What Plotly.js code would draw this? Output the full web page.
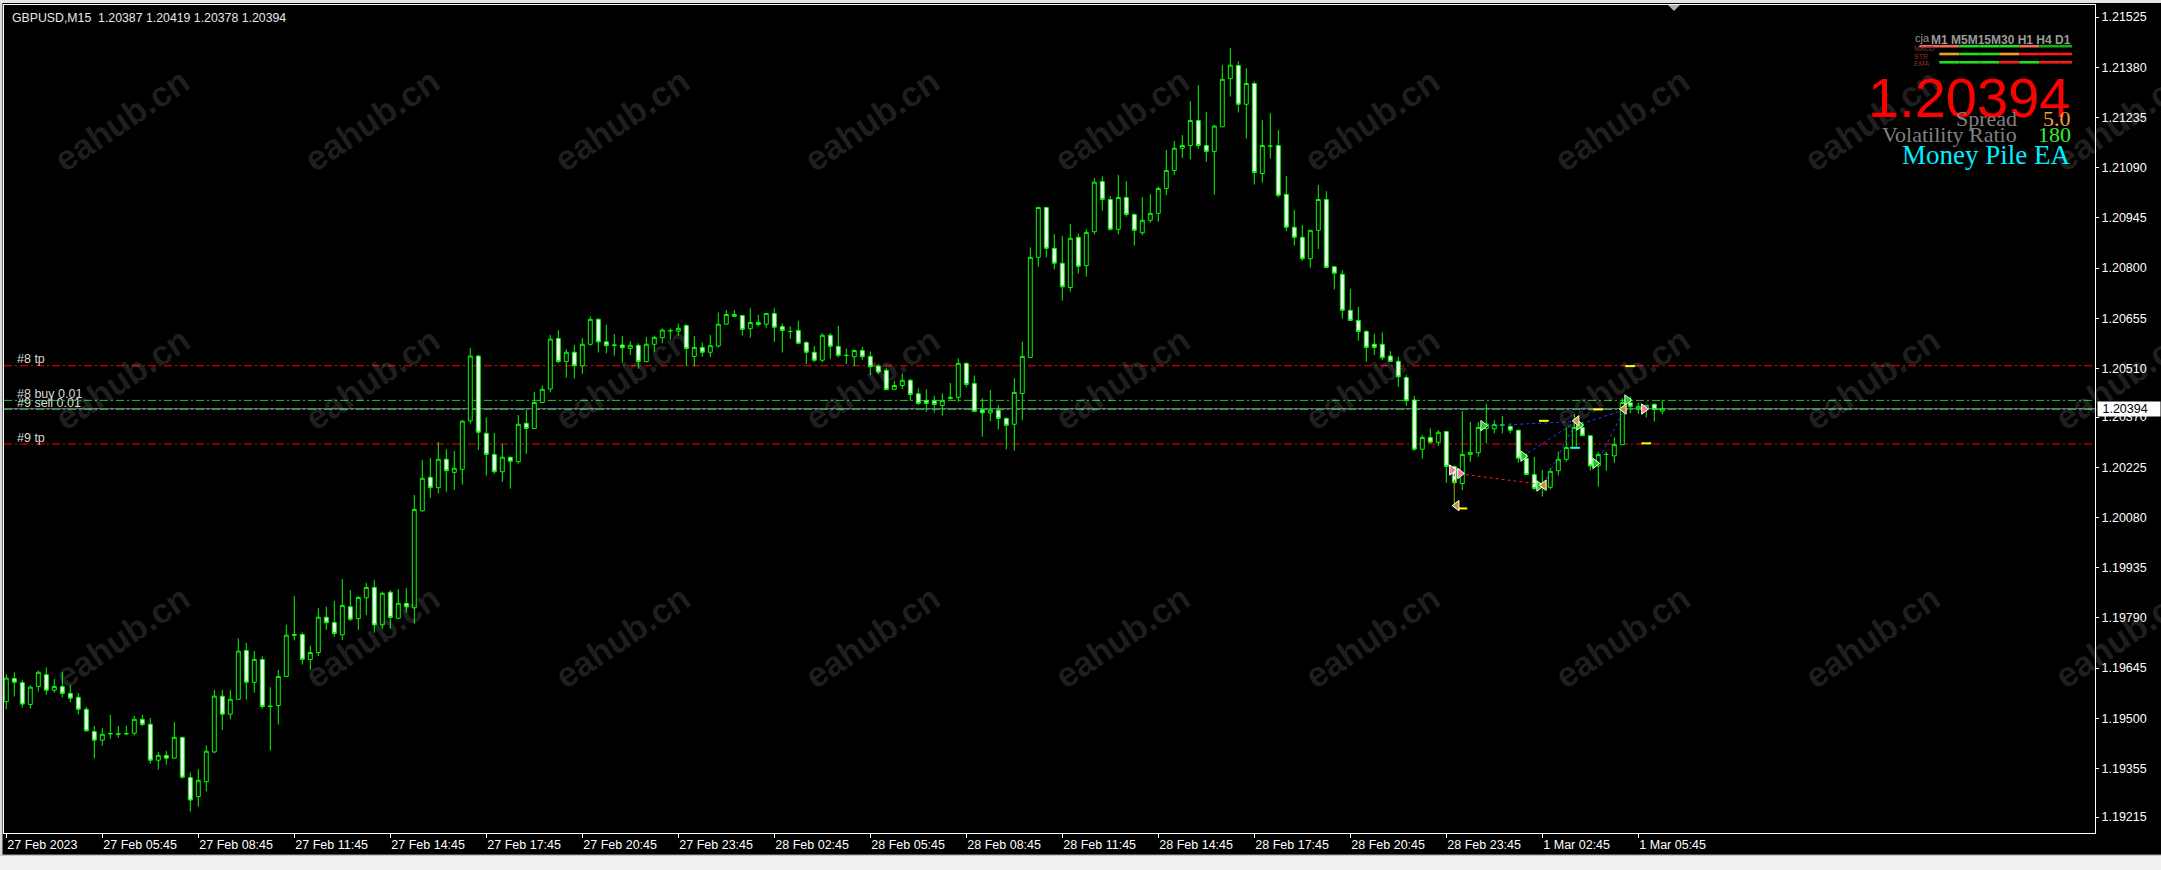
<!DOCTYPE html>
<html><head><meta charset="utf-8">
<script src="https://cdn.plot.ly/plotly-3.0.1.min.js"></script>
<style>html,body{margin:0;padding:0;background:#000;overflow:hidden}#chart{width:2161px;height:870px}</style>
</head><body><div id="chart"></div>
<script>
// ---------------- DATA (GBPUSD M15, bar 0 = 27 Feb 2023 02:45) ----------------
const symbolTitle = 'GBPUSD,M15\u00a0 1.20387 1.20419 1.20378 1.20394';
const openP = [
1.19548,1.19615,1.19603,1.19540,1.19592,1.19626,1.19581,1.19592,1.19572,1.19561,
1.19526,1.19462,1.19437,1.19455,1.19455,1.19455,1.19457,1.19497,1.19483,1.19379,
1.19393,1.19385,1.19445,1.19329,1.19274,1.19317,1.19403,1.19564,1.19512,1.19555,
1.19696,1.19604,1.19670,1.19534,1.19537,1.19621,1.19742,1.19742,1.19670,1.19690,
1.19792,1.19777,1.19741,1.19822,1.19788,1.19848,1.19878,1.19770,1.19864,1.19789,
1.19832,1.19819,1.20099,1.20196,1.20166,1.20248,1.20210,1.20219,1.20359,1.20546,
1.20323,1.20262,1.20212,1.20254,1.20241,1.20352,1.20337,1.20412,1.20451,1.20597,
1.20530,1.20557,1.20518,1.20580,1.20652,1.20587,1.20578,1.20578,1.20568,1.20577,
1.20530,1.20580,1.20599,1.20620,1.20618,1.20634,1.20545,1.20571,1.20557,1.20575,
1.20638,1.20666,1.20663,1.20625,1.20643,1.20638,1.20669,1.20631,1.20617,1.20620,
1.20585,1.20557,1.20534,1.20606,1.20574,1.20548,1.20544,1.20562,1.20545,1.20517,
1.20505,1.20450,1.20461,1.20476,1.20437,1.20418,1.20417,1.20403,1.20423,1.20427,
1.20525,1.20467,1.20390,1.20382,1.20389,1.20366,1.20349,1.20438,1.20542,1.20831,
1.20975,1.20857,1.20814,1.20744,1.20889,1.20807,1.20905,1.21050,1.20998,1.20912,
1.21004,1.20955,1.20902,1.20938,1.20958,1.21030,1.21082,1.21146,1.21154,1.21226,
1.21154,1.21137,1.21208,1.21347,1.21385,1.21273,1.21333,1.21073,1.21152,1.21154,
1.21013,1.20918,1.20889,1.20827,1.20909,1.20998,1.20804,1.20782,1.20678,1.20649,
1.20617,1.20580,1.20580,1.20546,1.20531,1.20484,1.20419,1.20277,1.20311,1.20297,
1.20328,1.20227,1.20178,1.20262,1.20267,1.20337,1.20336,1.20347,1.20343,1.20332,
1.20251,1.20204,1.20179,1.20167,1.20215,1.20248,1.20281,1.20340,1.20316,1.20229,
1.20262,1.20258,1.20290,1.20411,1.20394,1.20392,1.20407,1.20387];
const highP = [
1.19627,1.19633,1.19611,1.19595,1.19638,1.19647,1.19614,1.19634,1.19596,1.19573,
1.19533,1.19478,1.19472,1.19510,1.19478,1.19479,1.19507,1.19510,1.19501,1.19403,
1.19406,1.19489,1.19447,1.19344,1.19353,1.19422,1.19582,1.19582,1.19582,1.19731,
1.19718,1.19694,1.19679,1.19590,1.19640,1.19770,1.19853,1.19748,1.19710,1.19818,
1.19822,1.19839,1.19902,1.19870,1.19853,1.19891,1.19899,1.19866,1.19870,1.19873,
1.19876,1.20145,1.20246,1.20252,1.20298,1.20277,1.20272,1.20361,1.20569,1.20549,
1.20369,1.20324,1.20292,1.20254,1.20376,1.20392,1.20442,1.20461,1.20607,1.20621,
1.20566,1.20578,1.20598,1.20660,1.20655,1.20636,1.20609,1.20604,1.20589,1.20583,
1.20601,1.20605,1.20626,1.20626,1.20640,1.20638,1.20604,1.20585,1.20607,1.20672,
1.20679,1.20679,1.20665,1.20684,1.20665,1.20669,1.20684,1.20640,1.20632,1.20647,
1.20589,1.20575,1.20612,1.20612,1.20633,1.20568,1.20565,1.20572,1.20559,1.20523,
1.20513,1.20474,1.20496,1.20480,1.20453,1.20450,1.20431,1.20438,1.20468,1.20539,
1.20527,1.20490,1.20424,1.20448,1.20404,1.20369,1.20482,1.20588,1.20860,1.20977,
1.20977,1.20898,1.20893,1.20927,1.20900,1.20912,1.21060,1.21065,1.21008,1.21069,
1.21051,1.20958,1.21005,1.21014,1.21035,1.21141,1.21167,1.21184,1.21282,1.21328,
1.21250,1.21213,1.21386,1.21435,1.21397,1.21377,1.21339,1.21227,1.21247,1.21199,
1.21066,1.20968,1.20924,1.20909,1.21040,1.21022,1.20804,1.20794,1.20740,1.20688,
1.20621,1.20610,1.20614,1.20560,1.20544,1.20491,1.20431,1.20318,1.20337,1.20332,
1.20330,1.20230,1.20387,1.20356,1.20355,1.20408,1.20361,1.20373,1.20352,1.20332,
1.20265,1.20255,1.20217,1.20222,1.20270,1.20340,1.20378,1.20357,1.20316,1.20268,
1.20269,1.20311,1.20424,1.20429,1.20411,1.20404,1.20407,1.20419];
const lowP = [
1.19526,1.19563,1.19531,1.19528,1.19577,1.19568,1.19574,1.19561,1.19547,1.19511,
1.19462,1.19384,1.19421,1.19441,1.19444,1.19452,1.19451,1.19478,1.19369,1.19352,
1.19366,1.19384,1.19326,1.19231,1.19245,1.19289,1.19399,1.19466,1.19497,1.19555,
1.19554,1.19574,1.19528,1.19407,1.19482,1.19621,1.19725,1.19655,1.19640,1.19680,
1.19755,1.19736,1.19726,1.19781,1.19755,1.19798,1.19747,1.19759,1.19759,1.19786,
1.19805,1.19773,1.20097,1.20137,1.20149,1.20154,1.20160,1.20175,1.20351,1.20275,
1.20201,1.20206,1.20183,1.20163,1.20235,1.20264,1.20337,1.20412,1.20441,1.20525,
1.20484,1.20481,1.20494,1.20576,1.20556,1.20554,1.20547,1.20527,1.20549,1.20509,
1.20528,1.20557,1.20583,1.20594,1.20605,1.20516,1.20516,1.20544,1.20544,1.20571,
1.20638,1.20660,1.20605,1.20599,1.20631,1.20628,1.20587,1.20556,1.20596,1.20582,
1.20523,1.20528,1.20528,1.20538,1.20542,1.20523,1.20517,1.20535,1.20491,1.20494,
1.20448,1.20450,1.20450,1.20417,1.20405,1.20385,1.20383,1.20374,1.20421,1.20414,
1.20456,1.20385,1.20313,1.20358,1.20334,1.20277,1.20273,1.20361,1.20542,1.20804,
1.20831,1.20796,1.20706,1.20732,1.20784,1.20775,1.20897,1.20966,1.20908,1.20897,
1.20948,1.20865,1.20895,1.20931,1.20934,1.21011,1.21069,1.21118,1.21114,1.21145,
1.21107,1.21012,1.21208,1.21295,1.21249,1.21174,1.21041,1.21047,1.21116,1.21004,
1.20907,1.20865,1.20821,1.20801,1.20855,1.20802,1.20739,1.20654,1.20648,1.20590,
1.20530,1.20549,1.20534,1.20530,1.20457,1.20402,1.20273,1.20250,1.20294,1.20286,
1.20180,1.20110,1.20159,1.20241,1.20255,1.20294,1.20323,1.20323,1.20323,1.20238,
1.20202,1.20159,1.20140,1.20161,1.20201,1.20241,1.20280,1.20315,1.20215,1.20169,
1.20215,1.20238,1.20290,1.20381,1.20379,1.20369,1.20357,1.20378];
const closeP = [
1.19616,1.19604,1.19541,1.19590,1.19633,1.19581,1.19592,1.19572,1.19558,1.19526,
1.19464,1.19437,1.19454,1.19456,1.19454,1.19456,1.19497,1.19482,1.19379,1.19393,
1.19385,1.19445,1.19330,1.19264,1.19321,1.19405,1.19564,1.19512,1.19555,1.19694,
1.19604,1.19670,1.19534,1.19535,1.19621,1.19740,1.19740,1.19670,1.19690,1.19792,
1.19776,1.19745,1.19826,1.19786,1.19849,1.19878,1.19770,1.19861,1.19791,1.19832,
1.19822,1.20103,1.20193,1.20166,1.20248,1.20215,1.20222,1.20358,1.20546,1.20326,
1.20262,1.20212,1.20254,1.20242,1.20349,1.20337,1.20412,1.20450,1.20595,1.20530,
1.20557,1.20518,1.20580,1.20652,1.20587,1.20576,1.20577,1.20570,1.20577,1.20530,
1.20580,1.20600,1.20621,1.20619,1.20626,1.20568,1.20571,1.20557,1.20576,1.20638,
1.20666,1.20661,1.20623,1.20643,1.20637,1.20669,1.20629,1.20620,1.20617,1.20583,
1.20557,1.20534,1.20606,1.20574,1.20548,1.20548,1.20562,1.20544,1.20515,1.20500,
1.20449,1.20461,1.20476,1.20435,1.20409,1.20409,1.20406,1.20418,1.20427,1.20525,
1.20464,1.20386,1.20382,1.20390,1.20366,1.20346,1.20441,1.20545,1.20831,1.20975,
1.20857,1.20814,1.20746,1.20886,1.20805,1.20903,1.21048,1.20998,1.20912,1.21004,
1.20955,1.20909,1.20938,1.20958,1.21030,1.21082,1.21146,1.21154,1.21226,1.21154,
1.21137,1.21210,1.21345,1.21386,1.21273,1.21333,1.21076,1.21154,1.21152,1.21010,
1.20918,1.20889,1.20827,1.20909,1.20998,1.20802,1.20785,1.20678,1.20649,1.20617,
1.20571,1.20571,1.20541,1.20530,1.20486,1.20417,1.20277,1.20311,1.20297,1.20326,
1.20227,1.20180,1.20262,1.20268,1.20340,1.20350,1.20348,1.20347,1.20332,1.20251,
1.20204,1.20164,1.20169,1.20213,1.20248,1.20282,1.20340,1.20316,1.20229,1.20262,
1.20262,1.20291,1.20412,1.20400,1.20401,1.20404,1.20392,1.20394];

const timeTickBars = [0,12,24,36,48,60,72,84,96,108,120,132,144,156,168,180,192,204];
const timeTickLabels = ['27 Feb 2023','27 Feb 05:45','27 Feb 08:45','27 Feb 11:45','27 Feb 14:45','27 Feb 17:45',
  '27 Feb 20:45','27 Feb 23:45','28 Feb 02:45','28 Feb 05:45','28 Feb 08:45','28 Feb 11:45','28 Feb 14:45',
  '28 Feb 17:45','28 Feb 20:45','28 Feb 23:45','1 Mar 02:45','1 Mar 05:45'];
const priceTicks = [1.21525,1.21380,1.21235,1.21090,1.20945,1.20800,1.20655,1.20510,1.20370,1.20225,
  1.20080,1.19935,1.19790,1.19645,1.19500,1.19355,1.19215];

const bidPrice = 1.20394;
const levelNames  = ['#8 tp','#8 buy 0.01','#9 sell 0.01','#9 tp'];
const levelPrices = [1.20518, 1.20418, 1.20392, 1.20292];
const levelKinds  = ['tp','order','order','tp'];

// trade history objects (bar index, price)
const buyArrowBar   = [184.6, 189.6, 191.6, 196.6, 198.6, 202.6];
const buyArrowPrice = [1.20345, 1.20257, 1.20171, 1.20347, 1.20236, 1.20419];
const sellArrowBar   = [180.7, 181.7, 204.7];
const sellArrowPrice = [1.20217, 1.20207, 1.20393];
const closeArrowBar   = [181.3, 192.2, 196.3, 202.2];
const closeArrowPrice = [1.20114, 1.20173, 1.20359, 1.20393];
const buyLineBar0 = [185.5, 189.6, 192.1, 196.9, 198.8];
const buyLinePrice0 = [1.20345, 1.20257, 1.20174, 1.20350, 1.20236];
const buyLineBar1 = [196.1, 195.9, 195.9, 202.1, 202.1];
const buyLinePrice1 = [1.20357, 1.20352, 1.20342, 1.20390, 1.20385];
const sellLineBar0 = [181.7, 181.0];
const sellLinePrice0 = [1.20206, 1.20207];
const sellLineBar1 = [191.3, 181.0];
const sellLinePrice1 = [1.20177, 1.20111];
const yellowMarkBar = [192.2, 203.0, 199.0, 205.0, 182.0];
const yellowMarkPrice = [1.20359, 1.20517, 1.20392, 1.20294, 1.20106];
const cyanMarkBar = [196.1];
const cyanMarkPrice = [1.20281];

// indicator panel
const panelTF = 'M1 M5M15M30 H1 H4 D1';
const macdState = ['dn','dn','up','up','up','dn','up2','up2'];
const strState  = ['',  'mid','up','up','mid','dn','dn','dn'];
const emaState  = ['',  'up','up','up','dn','up','dn','dn'];
const spreadValue = '5.0';
const volRatioValue = '180';
const eaName = 'Money Pile EA';
const watermark = 'eahub.cn';

// ---------------- LAYOUT HELPERS ----------------
const L = 4, R = 2095, T = 5, B = 833;
const X = px => (px - L) / (R - L);
const Y = py => (B - py) / (B - T);
const FONT = 'Liberation Sans, Arial, sans-serif';
const SERIF = 'Liberation Serif, Times New Roman, serif';
const bars = openP.map((_, i) => i);

const traces = [];
traces.push({
  type: 'candlestick', x: bars, open: openP, high: highP, low: lowP, close: closeP,
  increasing: {line: {color: '#00ff00', width: 1}, fillcolor: '#000000'},
  decreasing: {line: {color: '#00ff00', width: 1}, fillcolor: '#ffffff'},
  whiskerwidth: 0, hoverinfo: 'skip', showlegend: false
});
function segs(x0, p0, x1, p1) {
  const xs = [], ys = [];
  for (let i = 0; i < x0.length; i++) { xs.push(x0[i], x1[i], null); ys.push(p0[i], p1[i], null); }
  return {xs, ys};
}
const bl = segs(buyLineBar0, buyLinePrice0, buyLineBar1, buyLinePrice1);
traces.push({type: 'scatter', mode: 'lines', x: bl.xs, y: bl.ys, line: {color: '#2040ff', width: 1, dash: '3px,3px'}, hoverinfo: 'skip', showlegend: false});
const sl = segs(sellLineBar0, sellLinePrice0, sellLineBar1, sellLinePrice1);
traces.push({type: 'scatter', mode: 'lines', x: sl.xs, y: sl.ys, line: {color: '#ff2020', width: 1, dash: '3px,3px'}, hoverinfo: 'skip', showlegend: false});
traces.push({type: 'scatter', mode: 'markers', x: yellowMarkBar, y: yellowMarkPrice, marker: {symbol: 'line-ew', size: 7, line: {color: '#ffff00', width: 2}}, hoverinfo: 'skip', showlegend: false});
traces.push({type: 'scatter', mode: 'markers', x: cyanMarkBar, y: cyanMarkPrice, marker: {symbol: 'line-ew', size: 7, line: {color: '#00ffff', width: 2}}, hoverinfo: 'skip', showlegend: false});
traces.push({type: 'scatter', mode: 'markers', x: buyArrowBar, y: buyArrowPrice, marker: {symbol: 'triangle-right', size: 9, color: '#10d010', line: {color: '#ffffff', width: 1}}, hoverinfo: 'skip', showlegend: false});
traces.push({type: 'scatter', mode: 'markers', x: sellArrowBar, y: sellArrowPrice, marker: {symbol: 'triangle-right', size: 9, color: '#ff70b0', line: {color: '#ffffff', width: 1}}, hoverinfo: 'skip', showlegend: false});
traces.push({type: 'scatter', mode: 'markers', x: closeArrowBar, y: closeArrowPrice, marker: {symbol: 'triangle-left', size: 9, color: '#c89030', line: {color: '#ffffff', width: 1}}, hoverinfo: 'skip', showlegend: false});

const shapes = [];
levelPrices.forEach((p, i) => {
  shapes.push({type: 'line', layer: 'below', xref: 'paper', x0: 0, x1: 1, yref: 'y', y0: p, y1: p,
    line: {color: levelKinds[i] === 'tp' ? '#ff0000' : '#22cc22', width: 1, dash: '8px,3px,2px,3px'}});
});
shapes.push({type: 'line', layer: 'below', xref: 'paper', x0: 0, x1: 1, yref: 'y', y0: bidPrice, y1: bidPrice,
  line: {color: '#778899', width: 1}});
// window borders
shapes.push({type: 'rect', xref: 'paper', yref: 'paper', x0: X(0), x1: X(2161), y0: Y(855), y1: Y(871), fillcolor: '#f0f0f0', line: {width: 0}});
shapes.push({type: 'line', xref: 'paper', yref: 'paper', x0: X(0), x1: X(2161), y0: Y(855), y1: Y(855), line: {color: '#a0a0a0', width: 1}});
shapes.push({type: 'rect', xref: 'paper', yref: 'paper', x0: X(-1), x1: X(2.5), y0: Y(-1), y1: Y(855), fillcolor: '#d8d8d8', line: {width: 0}});
shapes.push({type: 'rect', xref: 'paper', yref: 'paper', x0: X(0), x1: X(2161), y0: Y(-1), y1: Y(3), fillcolor: '#e4e4e4', line: {width: 0}});
shapes.push({type: 'path', xref: 'paper', yref: 'paper',
  path: `M ${X(1668)} ${Y(5)} L ${X(1680)} ${Y(5)} L ${X(1674)} ${Y(11)} Z`, fillcolor: '#b0b0b0', line: {width: 0}});
const stateColor = {dn: '#ee6a5a', up: '#22dd22', up2: '#11b011', mid: '#f0a020'};
const stateColor2 = {dn: '#ff1a1a', up: '#22dd22', mid: '#f0a020'};
[[macdState, 46.2, stateColor], [strState, 54, stateColor2], [emaState, 62.3, stateColor2]].forEach(([st, yc, cmap]) => {
  st.forEach((s, k) => {
    if (!s) return;
    const x0 = 1919.3 + 20 * k, x1 = Math.min(x0 + 20, 2072);
    shapes.push({type: 'rect', xref: 'paper', yref: 'paper', x0: X(x0), x1: X(x1), y0: Y(yc + 1.3), y1: Y(yc - 1.3),
      fillcolor: cmap[s], line: {width: 0}});
  });
});

const ann = [];
[122, 372, 622, 872, 1122, 1372, 1622, 1872, 2122].forEach(cx => {
  [120, 378, 636].forEach(cy => {
    ann.push({xref: 'paper', yref: 'paper', x: X(cx), y: Y(cy), xanchor: 'center', yanchor: 'middle',
      text: '<b>' + watermark + '</b>', showarrow: false, textangle: -34,
      font: {family: FONT, size: 35, color: 'rgba(255,255,255,0.12)'}});
  });
});
ann.push({xref: 'paper', yref: 'paper', x: X(10), y: Y(17.7), xanchor: 'left', yanchor: 'middle', text: symbolTitle,
  showarrow: false, font: {family: FONT, size: 12.3, color: '#e8e8e8'}});
levelNames.forEach((n, i) => {
  ann.push({xref: 'paper', yref: 'y', x: X(15), y: levelPrices[i], xanchor: 'left', yanchor: 'middle', yshift: 6.5,
    text: n, showarrow: false, font: {family: FONT, size: 12.5, color: '#d8d8d8'}});
});
ann.push({xref: 'paper', yref: 'y', x: 1, y: bidPrice, xanchor: 'left', yanchor: 'middle', xshift: 2,
  text: '\u00a0' + bidPrice.toFixed(5), showarrow: false, align: 'left', width: 60, height: 12, borderpad: 1,
  bgcolor: '#ffffff', font: {family: FONT, size: 12.5, color: '#000000'}});
ann.push({xref: 'paper', yref: 'paper', x: X(1913), y: Y(38.5), xanchor: 'left', yanchor: 'middle', text: 'cja',
  showarrow: false, font: {family: FONT, size: 11, color: '#9a9a9a'}});
ann.push({xref: 'paper', yref: 'paper', x: X(2073), y: Y(40), xanchor: 'right', yanchor: 'middle', text: '<b>' + panelTF + '</b>',
  showarrow: false, font: {family: FONT, size: 12, color: '#9a9a9a'}});
[['MACD', 48.5], ['STR', 56], ['EMA', 64]].forEach(([t, yy]) => {
  ann.push({xref: 'paper', yref: 'paper', x: X(1912), y: Y(yy), xanchor: 'left', yanchor: 'middle', text: t,
    showarrow: false, font: {family: FONT, size: 7, color: '#8a3030'}});
});
ann.push({xref: 'paper', yref: 'paper', x: X(2072), y: Y(97), xanchor: 'right', yanchor: 'middle', text: bidPrice.toFixed(5),
  showarrow: false, font: {family: FONT, size: 56, color: '#ff0000'}});
ann.push({xref: 'paper', yref: 'paper', x: X(2019), y: Y(119), xanchor: 'right', yanchor: 'middle', text: 'Spread',
  showarrow: false, font: {family: SERIF, size: 22, color: '#808080'}});
ann.push({xref: 'paper', yref: 'paper', x: X(2073), y: Y(119), xanchor: 'right', yanchor: 'middle', text: spreadValue,
  showarrow: false, font: {family: SERIF, size: 22, color: '#f0a030'}});
ann.push({xref: 'paper', yref: 'paper', x: X(2019), y: Y(134.5), xanchor: 'right', yanchor: 'middle', text: 'Volatility Ratio',
  showarrow: false, font: {family: SERIF, size: 22, color: '#808080'}});
ann.push({xref: 'paper', yref: 'paper', x: X(2073), y: Y(134.5), xanchor: 'right', yanchor: 'middle', text: volRatioValue,
  showarrow: false, font: {family: SERIF, size: 22, color: '#33ee33'}});
ann.push({xref: 'paper', yref: 'paper', x: X(2072), y: Y(154.5), xanchor: 'right', yanchor: 'middle', text: eaName,
  showarrow: false, font: {family: SERIF, size: 27, color: '#00f0ff'}});

const layout = {
  width: 2161, height: 870,
  margin: {l: L, r: 2161 - R, t: T, b: 870 - B, pad: 0},
  paper_bgcolor: '#000000', plot_bgcolor: '#000000',
  showlegend: false, hovermode: false,
  xaxis: {
    type: 'linear', range: [(L - 6.3) / 8, (R - 6.3) / 8], rangeslider: {visible: false},
    tickmode: 'array', tickvals: timeTickBars, ticktext: timeTickLabels,
    ticks: 'outside', ticklen: 4, tickcolor: '#ffffff', tickwidth: 1,
    ticklabelposition: 'outside right',
    tickfont: {family: FONT, size: 12.5, color: '#ffffff'},
    showgrid: false, zeroline: false, showline: true, mirror: true, linecolor: '#ffffff', linewidth: 1,
    fixedrange: true
  },
  yaxis: {
    side: 'right', range: [1.20394 - (B - 408.7) / 34633, 1.20394 + (408.7 - T) / 34633],
    tickmode: 'array', tickvals: priceTicks, ticktext: priceTicks.map(v => v.toFixed(5)),
    ticks: 'outside', ticklen: 3, tickcolor: '#ffffff', tickwidth: 1,
    tickfont: {family: FONT, size: 12.5, color: '#ffffff'},
    showgrid: false, zeroline: false, showline: true, mirror: true, linecolor: '#ffffff', linewidth: 1,
    fixedrange: true
  },
  boxgap: 0.3, boxgroupgap: 0.3,
  shapes: shapes, annotations: ann
};
Plotly.newPlot('chart', traces, layout, {staticPlot: true, displayModeBar: false});
</script></body></html>
